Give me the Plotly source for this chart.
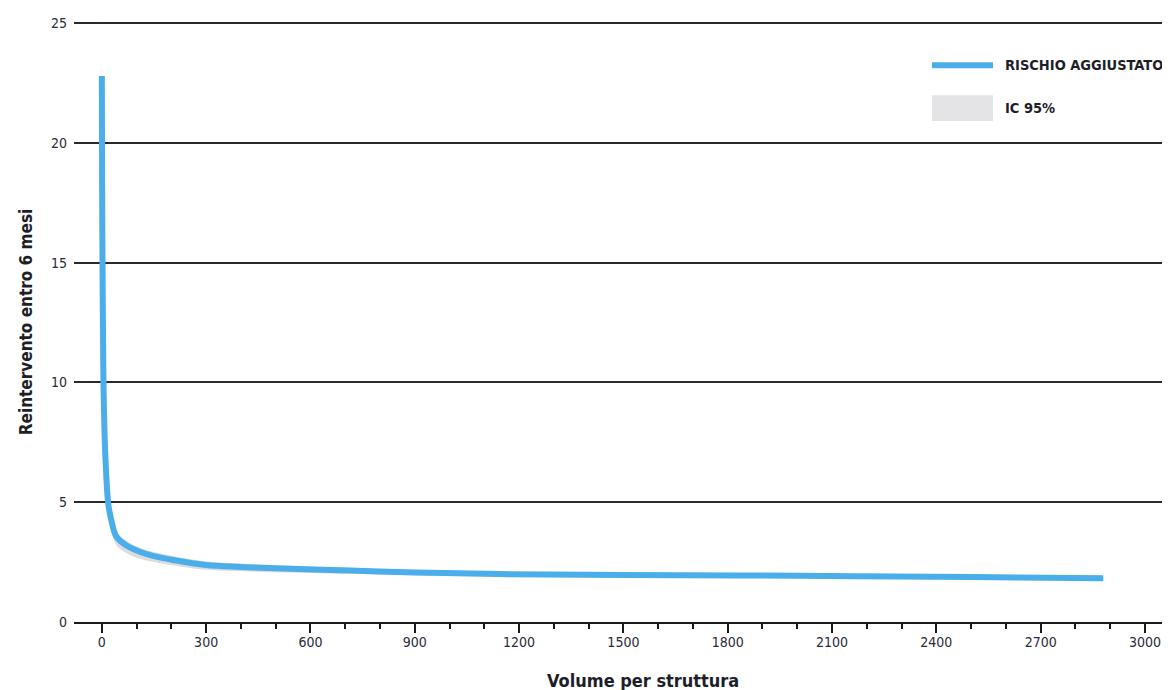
import plotly.graph_objects as go

# Data
volume = [0, 1, 2, 4, 6, 10, 18, 25, 42, 70, 109, 150, 205, 301, 400, 500, 713, 900, 1145, 1500, 2000, 2500, 2880]
risk = [22.8, 18.0, 15.0, 11.0, 9.0, 7.0, 5.0, 4.4, 3.56, 3.2, 2.93, 2.75, 2.59, 2.38, 2.3, 2.24, 2.15, 2.07, 2.0, 1.96, 1.93, 1.88, 1.83]
ci_lo = [21.0, 16.5, 13.8, 10.2, 8.4, 6.5, 4.6, 4.05, 3.2, 2.88, 2.64, 2.5, 2.36, 2.18, 2.12, 2.08, 2.01, 1.95, 1.89, 1.86, 1.84, 1.79, 1.74]
ci_hi = [26.0, 19.5, 16.2, 11.8, 9.6, 7.5, 5.3, 4.65, 3.78, 3.4, 3.1, 2.92, 2.76, 2.53, 2.44, 2.37, 2.27, 2.18, 2.1, 2.06, 2.02, 1.97, 1.92]

x_ticks = [0, 300, 600, 900, 1200, 1500, 1800, 2100, 2400, 2700, 3000]
y_ticks = [0, 5, 10, 15, 20, 25]

FONT = "Liberation Sans Narrow, DejaVu Sans Condensed, DejaVu Sans, sans-serif"
BLUE = "#4aaeea"
BAND = "#dcdcdf"
TXT = "#2a2a38"

fig = go.Figure()

fig.add_trace(go.Scatter(
    x=volume, y=ci_lo, mode="lines", line=dict(width=0, shape="spline"),
    showlegend=False, hoverinfo="skip"))
fig.add_trace(go.Scatter(
    x=volume, y=ci_hi, mode="lines", line=dict(width=0, shape="spline"),
    fill="tonexty", fillcolor=BAND, name="IC 95%", showlegend=False, hoverinfo="skip"))
fig.add_trace(go.Scatter(
    x=volume, y=risk, mode="lines", line=dict(color=BLUE, width=6, shape="spline"),
    name="RISCHIO AGGIUSTATO", showlegend=False))

# Manual legend (paper coordinates = plot area)
fig.add_shape(type="line", xref="paper", yref="paper", x0=0.7828, x1=0.8385, y0=0.928, y1=0.928,
              line=dict(color=BLUE, width=6))
fig.add_shape(type="rect", xref="paper", yref="paper", x0=0.7828, x1=0.8385, y0=0.835, y1=0.878,
              line=dict(width=0), fillcolor="#e4e4e7")
fig.add_annotation(xref="paper", yref="paper", x=0.8476, y=0.928, xanchor="left", yanchor="middle",
                   text="<b>RISCHIO AGGIUSTATO</b>", showarrow=False,
                   font=dict(family=FONT, size=14.5, color="#1e1e2a"))
fig.add_annotation(xref="paper", yref="paper", x=0.8476, y=0.856, xanchor="left", yanchor="middle",
                   text="<b>IC 95%</b>", showarrow=False,
                   font=dict(family=FONT, size=14.5, color="#1e1e2a"))

# x-axis title (placed as in the reference, slightly right of centre)
fig.add_annotation(xref="paper", yref="paper", x=0.519, y=-0.097, xanchor="center", yanchor="middle",
                   text="<b>Volume per struttura</b>", showarrow=False,
                   font=dict(family=FONT, size=18, color="#1e1e2a"))

# page body has an 8px margin: figure is sized so the plot lands where the reference has it
fig.update_layout(
    width=1162, height=682,
    margin=dict(l=66, r=0, t=14, b=68),
    paper_bgcolor="white", plot_bgcolor="white",
    font=dict(family=FONT, size=14, color=TXT),
    showlegend=False,
    xaxis=dict(
        range=[-80, 3072], tickvals=x_ticks, ticktext=[str(v) for v in x_ticks],
        automargin=False,
        showgrid=False, zeroline=False,
        showline=True, linecolor="#1a1a1a", linewidth=2,
        ticks="outside", ticklen=9, tickwidth=2, tickcolor="#1a1a1a",
        ticklabelstandoff=-3,
        minor=dict(dtick=100, tick0=0, ticks="outside", ticklen=5, tickwidth=2, tickcolor="#1a1a1a"),
        tickfont=dict(family=FONT, size=14, color=TXT),
    ),
    yaxis=dict(
        range=[0, 25.05], tickvals=y_ticks, ticktext=[str(v) for v in y_ticks],
        automargin=False,
        showgrid=True, gridcolor="#2a2a2a", gridwidth=2,
        zeroline=False, showline=False, ticks="",
        ticklabelstandoff=6,
        tickfont=dict(family=FONT, size=14, color=TXT),
        title=dict(text="<b>Reintervento entro 6 mesi</b>", standoff=14,
                   font=dict(family=FONT, size=17, color="#1e1e2a")),
    ),
)

fig.write_html("out.html")
